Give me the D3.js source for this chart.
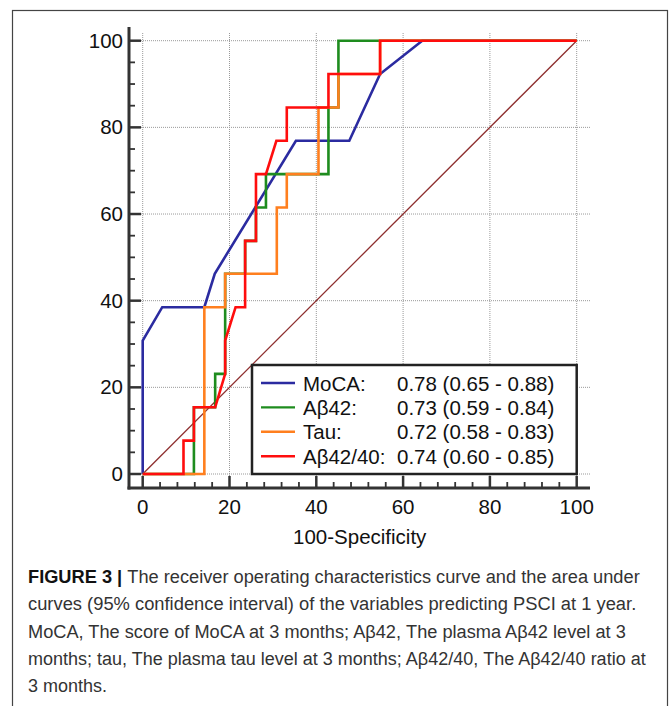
<!DOCTYPE html>
<html>
<head>
<meta charset="utf-8">
<script src="https://cdn.jsdelivr.net/npm/d3@7"></script>
<style>
  body { margin: 0; background: #fff; }
  text { font-family: "Liberation Sans", Arial, sans-serif; fill: #111; }
</style>
</head>
<body>
<script>
// ROC points: [100-specificity, sensitivity]
const mocaPts = [[0,0],[0,30.8],[4.5,38.5],[14.2,38.5],[16.6,46.2],[35.3,76.9],[47.6,76.9],[54.7,92.3],[64.4,100],[100,100]];
const abeta42Pts = [[0,0],[11.8,0],[11.8,15.4],[16.7,15.4],[16.7,23.1],[19.0,23.1],[19.0,46.2],[23.6,46.2],[23.6,53.8],[26.1,53.8],[26.1,61.5],[28.4,61.5],[28.4,69.2],[42.8,69.2],[42.8,84.6],[45.1,84.6],[45.1,100],[100,100]];
const tauPts = [[0,0],[14.2,0],[14.2,38.5],[19.0,38.5],[19.0,46.2],[30.9,46.2],[30.9,61.5],[33.2,61.5],[33.2,69.2],[40.5,69.2],[40.5,84.6],[45.1,84.6],[45.1,92.3],[54.7,92.3],[54.7,100],[100,100]];
const ratioPts = [[0,0],[9.4,0],[9.4,7.7],[11.8,7.7],[11.8,15.4],[16.7,15.4],[19.0,23.1],[19.0,30.8],[21.4,38.5],[23.6,38.5],[23.6,53.8],[26.1,53.8],[26.1,69.2],[28.4,69.2],[30.8,76.9],[33.2,76.9],[33.2,84.6],[42.8,84.6],[42.8,92.3],[54.7,92.3],[54.7,100],[100,100]];

const seriesNames = ["MoCA:", "Aβ42:", "Tau:", "Aβ42/40:"];
const aucLabels = ["0.78 (0.65 - 0.88)", "0.73 (0.59 - 0.84)", "0.72 (0.58 - 0.83)", "0.74 (0.60 - 0.85)"];
const colors = ["#2b2ba0", "#1e8c1e", "#ff7f1e", "#ff0d0d"];
const majorTicks = [0, 20, 40, 60, 80, 100];

const captionLines = [
  ["FIGURE 3 | ", "The receiver operating characteristics curve and the area under"],
  ["", "curves (95% confidence interval) of the variables predicting PSCI at 1 year."],
  ["", "MoCA, The score of MoCA at 3 months; Aβ42, The plasma Aβ42 level at 3"],
  ["", "months; tau, The plasma tau level at 3 months; Aβ42/40, The Aβ42/40 ratio at"],
  ["", "3 months."]
];
const captionWidths = [612, 609, 598, 618, 79];

const svg = d3.select("body")
  .append("svg")
  .attr("width", 670)
  .attr("height", 706);

// figure frame
svg.append("rect")
  .attr("x", 12.5).attr("y", 10.5)
  .attr("width", 655).attr("height", 720)
  .attr("fill", "none")
  .attr("stroke", "#444")
  .attr("stroke-width", 1.2);

const x = d3.scaleLinear().domain([0, 100]).range([142.7, 576.7]);
const y = d3.scaleLinear().domain([0, 100]).range([474, 40.7]);

// dotted grid
svg.append("g").selectAll("line")
  .data(majorTicks)
  .enter().append("line")
  .attr("x1", d => x(d)).attr("x2", d => x(d))
  .attr("y1", 33).attr("y2", 481)
  .attr("stroke", "#999").attr("stroke-dasharray", "1,1");
svg.append("g").selectAll("line")
  .data(majorTicks)
  .enter().append("line")
  .attr("x1", 141).attr("x2", 590)
  .attr("y1", d => y(d)).attr("y2", d => y(d))
  .attr("stroke", "#999").attr("stroke-dasharray", "1,1");

// y axis (ticks point right)
const yAxis = svg.append("g").attr("transform", "translate(129,0)");
yAxis.append("line").attr("y1", 27).attr("y2", 489.5).attr("stroke", "#333").attr("stroke-width", 3);
yAxis.selectAll(".minor")
  .data(d3.range(0, 101, 5))
  .enter().append("line")
  .attr("x1", 0).attr("x2", d => d % 20 === 0 ? 12 : 6)
  .attr("y1", d => y(d)).attr("y2", d => y(d))
  .attr("stroke", "#333").attr("stroke-width", d => d % 20 === 0 ? 2.5 : 1.8);
yAxis.selectAll("text")
  .data(majorTicks)
  .enter().append("text")
  .attr("x", -6).attr("y", d => y(d) + 7)
  .attr("text-anchor", "end")
  .style("font-size", "20.5px")
  .text(d => d);

// x axis (ticks point up)
const xAxis = svg.append("g").attr("transform", "translate(0,488)");
xAxis.append("line").attr("x1", 127.5).attr("x2", 590).attr("stroke", "#333").attr("stroke-width", 3);
xAxis.selectAll(".minor")
  .data(d3.range(0, 101, 4))
  .enter().append("line")
  .attr("x1", d => x(d)).attr("x2", d => x(d))
  .attr("y1", 0).attr("y2", d => d % 20 === 0 ? -12 : -6)
  .attr("stroke", "#333").attr("stroke-width", d => d % 20 === 0 ? 2.5 : 1.8);
xAxis.selectAll("text")
  .data(majorTicks)
  .enter().append("text")
  .attr("x", d => x(d)).attr("y", 26)
  .attr("text-anchor", "middle")
  .style("font-size", "20.5px")
  .text(d => d);

svg.append("text")
  .attr("x", x(50)).attr("y", 544)
  .attr("text-anchor", "middle")
  .style("font-size", "20.5px")
  .text("100-Specificity");

// reference diagonal
svg.append("line")
  .attr("x1", x(0)).attr("y1", y(0))
  .attr("x2", x(100)).attr("y2", y(100))
  .attr("stroke", "#8e2f2f").attr("stroke-width", 1.3);

// ROC curves
const line = d3.line().x(d => x(d[0])).y(d => y(d[1]));
svg.append("g").selectAll("path")
  .data([mocaPts, abeta42Pts, tauPts, ratioPts])
  .enter().append("path")
  .attr("d", line)
  .attr("fill", "none")
  .attr("stroke", (d, i) => colors[i])
  .attr("stroke-width", 2.6)
  .attr("stroke-linejoin", "miter");

// legend
const legend = svg.append("g");
legend.append("rect")
  .attr("x", 252).attr("y", 365)
  .attr("width", 324.7).attr("height", 109)
  .attr("fill", "#fff").attr("stroke", "#222").attr("stroke-width", 2.5);
const rows = legend.selectAll(".row")
  .data(seriesNames)
  .enter().append("g")
  .attr("transform", (d, i) => `translate(0,${383 + i * 24.4})`);
rows.append("line")
  .attr("x1", 261).attr("x2", 295)
  .attr("stroke", (d, i) => colors[i]).attr("stroke-width", 2.4);
rows.append("text")
  .attr("x", 303).attr("y", 7.5)
  .style("font-size", "20.5px")
  .text(d => d);
rows.append("text")
  .attr("x", 397).attr("y", 7.5)
  .style("font-size", "20.5px")
  .text((d, i) => aucLabels[i]);

// caption: condensed look by squeezing each line horizontally to its width
const capLines = svg.append("g").selectAll("text")
  .data(captionLines)
  .enter().append("text")
  .style("font-size", "19px")
  .style("fill", "#333");
capLines.append("tspan")
  .style("font-weight", "bold")
  .style("fill", "#111")
  .text(d => d[0]);
capLines.append("tspan").text(d => d[1]);
capLines.attr("transform", function(d, i) {
  const w = this.getComputedTextLength();
  return `translate(28,${583 + i * 27.3}) scale(${captionWidths[i] / w},1)`;
});
</script>
</body>
</html>
